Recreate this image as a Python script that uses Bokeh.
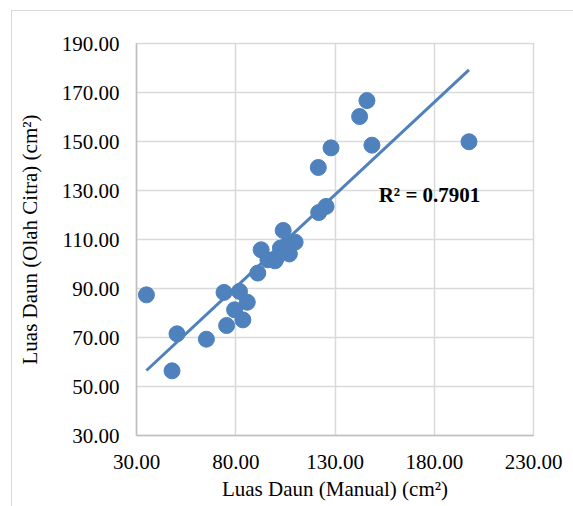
from bokeh.plotting import figure
from bokeh.embed import file_html
from bokeh.resources import INLINE
from bokeh.models import FixedTicker, NumeralTickFormatter, ColumnDataSource, Label
import numpy as np

# Data
luas_manual = [35.0, 47.9, 50.4, 65.2, 75.4, 74.1, 81.9, 85.8, 79.4, 83.6,
               91.1, 92.8, 96.2, 99.8, 102.5, 107.0, 103.9, 109.9, 100.5, 105.5,
               121.8, 125.5, 121.6, 128.0, 142.4, 146.1, 148.6, 197.5]
luas_citra = [87.4, 56.4, 71.5, 69.3, 74.9, 88.4, 88.8, 84.4, 81.3, 77.2,
              96.3, 105.8, 101.7, 101.3, 106.5, 104.1, 113.7, 108.9, 102.5, 107.5,
              121.0, 123.5, 139.4, 147.4, 160.2, 166.7, 148.5, 149.9]
trend_slope = 0.755
trend_intercept = 30.1
r2_text = "R² = 0.7901"
x_title = "Luas Daun (Manual) (cm²)"
y_title = "Luas Daun (Olah Citra) (cm²)"
x_ticks = [30, 80, 130, 180, 230]
y_ticks = [30, 50, 70, 90, 110, 130, 150, 170, 190]

BLUE = "#4f81bd"
GRID = "#d9d9d9"
FONT = "Liberation Serif"
FS = "21px"

p = figure(width=562, height=496, output_backend="svg", toolbar_location=None,
           x_range=(30, 230), y_range=(30, 190),
           min_border_left=124, min_border_right=41, min_border_top=32, min_border_bottom=72)
p.margin = (10, 0, 0, 11)
p.styles = {"border-left": "1px solid #d9d9d9", "border-top": "1px solid #d9d9d9"}

p.outline_line_color = GRID
p.outline_line_width = 1.5

for ax, ticks in ((p.xaxis[0], x_ticks), (p.yaxis[0], y_ticks)):
    ax.ticker = FixedTicker(ticks=ticks)
    ax.formatter = NumeralTickFormatter(format="0.00")
    ax.axis_label_text_font = FONT
    ax.axis_label_text_font_style = "normal"
    ax.axis_label_text_font_size = FS
    ax.axis_label_text_color = "#000000"
    ax.major_label_text_font = FONT
    ax.major_label_text_font_size = FS
    ax.major_label_text_color = "#000000"
    ax.major_tick_line_color = None
    ax.minor_tick_line_color = None
    ax.major_tick_out = 0
    ax.major_tick_in = 0
    ax.axis_line_color = "#bfbfbf"
    ax.axis_line_width = 1.5

p.yaxis[0].axis_label = y_title
p.yaxis[0].major_label_standoff = 17
p.yaxis[0].axis_label_standoff = 17
p.xaxis[0].axis_label = x_title
p.xaxis[0].major_label_standoff = 19
p.xaxis[0].axis_label_standoff = 5

p.xgrid.ticker = FixedTicker(ticks=x_ticks)
p.ygrid.ticker = FixedTicker(ticks=y_ticks)
p.xgrid.grid_line_color = GRID
p.ygrid.grid_line_color = GRID
p.xgrid.grid_line_width = 1.5
p.ygrid.grid_line_width = 1.5

# trend line
xs = np.array([min(luas_manual), max(luas_manual)])
ys = trend_slope * xs + trend_intercept
p.line(xs, ys, line_color=BLUE, line_width=3)

src = ColumnDataSource(dict(x=luas_manual, y=luas_citra))
p.scatter("x", "y", source=src, size=16, fill_color=BLUE, line_color=BLUE)

lbl = Label(x=152, y=128, text=r2_text, text_font=FONT, text_font_size=FS,
            text_font_style="bold", text_baseline="middle", text_align="left",
            text_color="#000000")
p.add_layout(lbl)

open("out.html", "w").write(file_html(p, INLINE))
